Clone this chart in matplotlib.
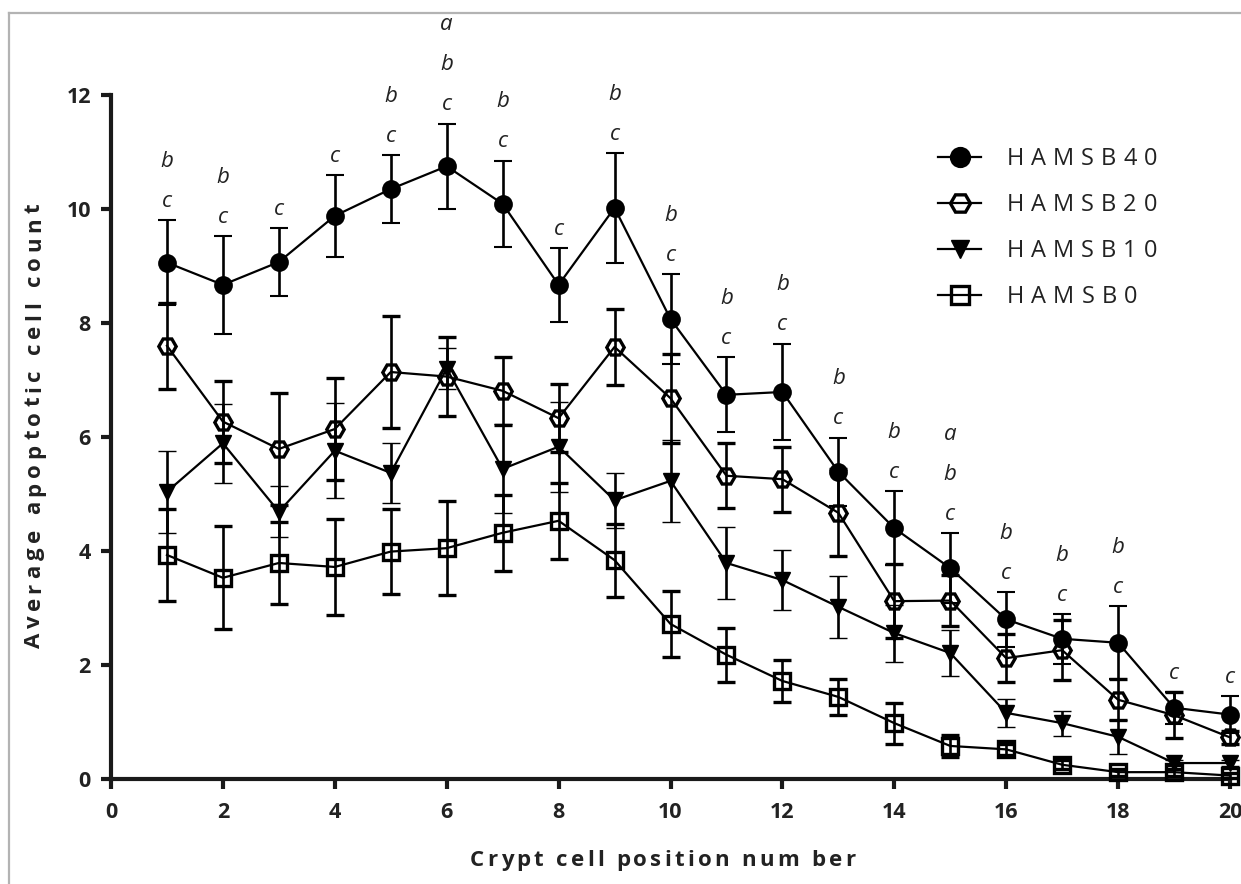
import numpy as np
import matplotlib
matplotlib.use("Agg")
import matplotlib.pyplot as plt
from matplotlib.lines import Line2D
from matplotlib.font_manager import FontProperties, findfont
from matplotlib.ft2font import FT2Font

# ---------------- data ----------------
positions = list(range(1, 21))

hamsb40 = [9.06, 8.67, 9.07, 9.88, 10.35, 10.75, 10.09, 8.67, 10.02, 8.07,
           6.74, 6.79, 5.39, 4.40, 3.70, 2.80, 2.46, 2.39, 1.25, 1.13]
hamsb40_err = [0.74, 0.86, 0.60, 0.72, 0.60, 0.75, 0.76, 0.65, 0.96, 0.79,
               0.66, 0.85, 0.60, 0.65, 0.62, 0.48, 0.44, 0.64, 0.28, 0.33]

hamsb20 = [7.60, 6.27, 5.79, 6.14, 7.14, 7.06, 6.81, 6.33, 7.58, 6.68,
           5.32, 5.26, 4.67, 3.12, 3.13, 2.12, 2.26, 1.39, 1.12, 0.73]
hamsb20_err = [0.75, 0.72, 0.99, 0.90, 0.98, 0.70, 0.60, 0.60, 0.66, 0.78,
               0.57, 0.57, 0.76, 0.65, 0.45, 0.42, 0.53, 0.36, 0.40, 0.12]

hamsb10 = [5.04, 5.89, 4.69, 5.76, 5.37, 7.20, 5.44, 5.83, 4.89, 5.23,
           3.79, 3.49, 3.02, 2.56, 2.21, 1.16, 0.98, 0.74, 0.28, 0.28]
hamsb10_err = [0.72, 0.69, 0.45, 0.83, 0.52, 0.36, 0.78, 0.79, 0.48, 0.72,
               0.63, 0.53, 0.54, 0.50, 0.40, 0.25, 0.22, 0.30, 0.06, 0.06]

hamsb0 = [3.93, 3.53, 3.79, 3.72, 3.99, 4.05, 4.32, 4.53, 3.84, 2.72,
          2.18, 1.72, 1.44, 0.98, 0.58, 0.52, 0.25, 0.12, 0.12, 0.06]
hamsb0_err = [0.80, 0.90, 0.72, 0.85, 0.74, 0.82, 0.67, 0.67, 0.64, 0.58,
              0.47, 0.37, 0.31, 0.36, 0.20, 0.10, 0.08, 0.06, 0.06, 0.05]

# significance letters (bottom -> top)
sig_letters = [["c", "b"], ["c", "b"], ["c"], ["c"], ["c", "b"], ["c", "b", "a"],
               ["c", "b"], ["c"], ["c", "b"], ["c", "b"], ["c", "b"], ["c", "b"],
               ["c", "b"], ["c", "b"], ["c", "b", "a"], ["c", "b"], ["c", "b"],
               ["c", "b"], ["c"], ["c"]]

series_labels = ["HAMSB40", "HAMSB20", "HAMSB10", "HAMSB0"]
xlabel_text = "Crypt cell position num ber"
ylabel_text = "Average apoptotic cell count"
xticks = list(range(0, 21, 2))
yticks = list(range(0, 13, 2))

# ---------------- figure ----------------
W, H, DPI = 1241, 884, 100
plt.rcParams["font.family"] = ["Open Sans", "DejaVu Sans"]
fig = plt.figure(figsize=(W / DPI, H / DPI), dpi=DPI, facecolor="white")

def fx(px):
    return px / W

def fy(py):
    return 1 - py / H

ax_l, ax_r, ax_t, ax_b = 111, 1230, 95, 779
ax = fig.add_axes([fx(ax_l), fy(ax_b), (ax_r - ax_l) / W, (ax_b - ax_t) / H])
ax.set_facecolor("none")

styles = [
    dict(marker="o", ms=12, mfc="black", mec="black", mew=1.5),
    dict(marker="H", ms=12.5, mfc="none", mec="black", mew=2.4),
    dict(marker="v", ms=11, mfc="black", mec="black", mew=1.0),
    dict(marker="s", ms=11.5, mfc="none", mec="black", mew=2.4),
]
all_means = [hamsb40, hamsb20, hamsb10, hamsb0]
all_errs = [hamsb40_err, hamsb20_err, hamsb10_err, hamsb0_err]

for k in range(3, -1, -1):
    st = styles[k]
    eb = ax.errorbar(positions, all_means[k], yerr=all_errs[k], color="black",
                     lw=1.6, elinewidth=1.9, capsize=6.5, capthick=2.1,
                     zorder=3 + (3 - k), clip_on=False, **st)
    for art in eb.lines[1] + eb.lines[2]:
        art.set_clip_on(False)

# significance letters
for i, xp in enumerate(positions):
    top = hamsb40[i] + hamsb40_err[i]
    for j, let in enumerate(sig_letters[i]):
        ax.annotate(let, xy=(xp, top), xytext=(0, 9.5 + 28.8 * j),
                    textcoords="offset points", ha="center", va="baseline",
                    fontsize=16, fontstyle="italic", color="#222222",
                    annotation_clip=False, family=["Open Sans", "DejaVu Sans"])

ax.set_xlim(0, 20)
ax.set_ylim(0, 12)
ax.set_xticks(xticks)
ax.set_yticks(yticks)
for side in ["top", "right"]:
    ax.spines[side].set_visible(False)
for side in ["left", "bottom"]:
    ax.spines[side].set_linewidth(3.0)
    ax.spines[side].set_color("#1a1a1a")
ax.tick_params(axis="both", length=7.5, width=3.0, direction="out",
               labelsize=15.5, color="#1a1a1a", labelcolor="#222222")
ax.tick_params(axis="x", pad=9)
ax.tick_params(axis="y", pad=7)
for lab in ax.get_xticklabels() + ax.get_yticklabels():
    lab.set_fontweight("bold")

# ---------------- letter-spaced text helper ----------------
def spaced_text(s, start, other, target_w, size, weight, vertical=False,
                color="#222222"):
    fp = FontProperties(family="Open Sans", weight=weight, size=size)
    font = FT2Font(findfont(fp))
    font.set_size(size, DPI)
    advs = []
    for ch in s:
        g = font.load_char(ord(ch))
        advs.append(g.linearHoriAdvance / 65536.0)
    natural = sum(advs)
    gap = (target_w - natural) / max(len(s) - 1, 1)
    pos = 0.0
    for ch, a in zip(s, advs):
        if ch != " ":
            if vertical:
                fig.text(fx(other), fy(start - pos), ch, rotation=90,
                         rotation_mode="anchor", ha="left", va="baseline",
                         fontproperties=fp, color=color)
            else:
                fig.text(fx(start + pos), fy(other), ch, ha="left",
                         va="baseline", fontproperties=fp, color=color)
        pos += a + gap

# x label
spaced_text(xlabel_text, 470, 866, 385, 16, "bold")
# y label (bottom -> top)
spaced_text(ylabel_text, 648, 40, 445, 16, "bold", vertical=True)

# ---------------- legend ----------------
leg_y = [157, 203, 249, 295]
for k in range(4):
    y = fy(leg_y[k])
    fig.add_artist(Line2D([fx(938), fx(981)], [y, y], transform=fig.transFigure,
                          color="black", lw=1.6))
    st = dict(styles[k])
    st["ms"] = st["ms"] * 1.15
    fig.add_artist(Line2D([fx(960)], [y], transform=fig.transFigure,
                          linestyle="none", **st))
    w = 150 if len(series_labels[k]) == 7 else 130
    spaced_text(series_labels[k], 1007, leg_y[k] + 8, w, 17, "normal")

# gray frame
fig.add_artist(Line2D([fx(9), fx(W + 5)], [fy(13), fy(13)], transform=fig.transFigure,
                      color="#b3b3b3", lw=1.6))
fig.add_artist(Line2D([fx(9), fx(9)], [fy(13), fy(H + 5)], transform=fig.transFigure,
                      color="#b3b3b3", lw=1.6))

fig.savefig("out.png", dpi=DPI, facecolor="white")
